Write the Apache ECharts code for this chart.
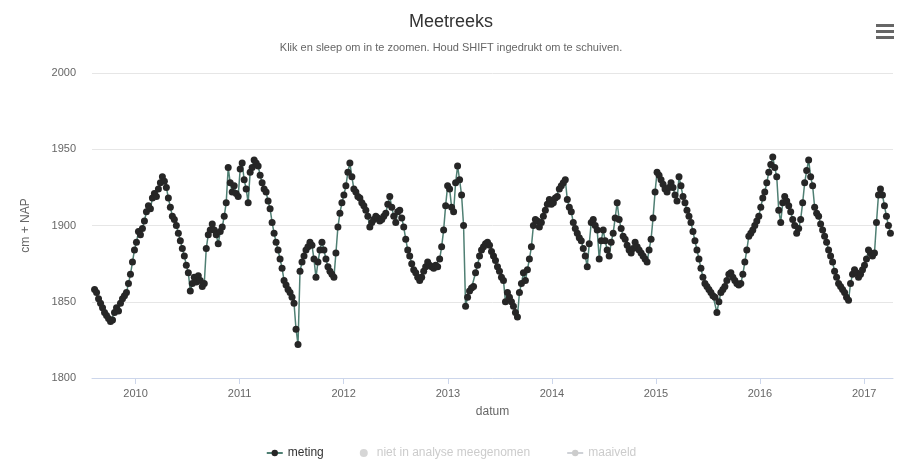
<!DOCTYPE html>
<html>
<head>
<meta charset="utf-8">
<title>Meetreeks</title>
<script src="https://cdn.jsdelivr.net/npm/echarts@6/dist/echarts.min.js"></script>
<style>
  html, body { margin: 0; padding: 0; background: #fff; }
  #chart { width: 902px; height: 472px; }
</style>
</head>
<body>
<div id="chart"></div>
<script>
// meetreeks grondwaterstand, wekelijkse aflezing vanaf 10 aug 2009
var startDatum = '2009-08-10';
var stapDagen = 7;

// waarden in cm + NAP (10 per regel)
var meting = [
    1858, 1856, 1852, 1849, 1846, 1843, 1841, 1839, 1837, 1838,
    1843, 1846, 1844, 1849, 1852, 1854, 1856, 1862, 1868, 1876,
    1884, 1889, 1896, 1894, 1898, 1903, 1909, 1913, 1911, 1918,
    1921, 1919, 1924, 1928, 1932, 1929, 1925, 1918, 1912, 1906,
    1904, 1900, 1895, 1890, 1885, 1880, 1874, 1869, 1857, 1862,
    1866, 1863, 1867, 1864, 1860, 1862, 1885, 1894, 1897, 1901,
    1897, 1894, 1888, 1896, 1899, 1906, 1915, 1938, 1928, 1922,
    1926, 1921, 1919, 1937, 1941, 1930, 1924, 1915, 1935, 1938,
    1943, 1941, 1939, 1933, 1928, 1924, 1922, 1916, 1911, 1902,
    1895, 1889, 1884, 1878, 1872, 1864, 1861, 1858, 1856, 1853,
    1849, 1832, 1822, 1870, 1876, 1880, 1884, 1886, 1889, 1887,
    1878, 1866, 1876, 1884, 1889, 1884, 1878, 1873, 1870, 1868,
    1866, 1882, 1899, 1908, 1915, 1920, 1926, 1935, 1941, 1932,
    1924, 1922, 1919, 1918, 1915, 1913, 1910, 1906, 1899, 1902,
    1904, 1906, 1905, 1903, 1904, 1906, 1908, 1914, 1919, 1912,
    1906, 1902, 1909, 1910, 1905, 1899, 1891, 1884, 1880, 1875,
    1871, 1869, 1866, 1864, 1866, 1870, 1873, 1876, 1874, 1873,
    1872, 1874, 1873, 1878, 1886, 1897, 1913, 1926, 1924, 1912,
    1909, 1928, 1939, 1930, 1920, 1900, 1847, 1853, 1857, 1859,
    1860, 1869, 1874, 1880, 1884, 1886, 1888, 1889, 1887, 1883,
    1880, 1877, 1873, 1870, 1866, 1864, 1850, 1856, 1853, 1850,
    1847, 1843, 1840, 1856, 1862, 1869, 1864, 1871, 1878, 1886,
    1900, 1904, 1903, 1899, 1902, 1906, 1910, 1914, 1917, 1914,
    1915, 1918, 1919, 1924, 1926, 1928, 1930, 1917, 1912, 1909,
    1902, 1898, 1895, 1892, 1890, 1885, 1880, 1873, 1888, 1902,
    1904, 1900, 1897, 1878, 1890, 1897, 1890, 1884, 1880, 1889,
    1895, 1905, 1915, 1904, 1898, 1893, 1891, 1887, 1884, 1882,
    1885, 1889, 1886, 1884, 1882, 1880, 1878, 1876, 1884, 1891,
    1905, 1922, 1935, 1933, 1930, 1927, 1924, 1922, 1925, 1928,
    1925, 1920, 1916, 1932, 1926, 1919, 1915, 1910, 1906, 1902,
    1896, 1890, 1884, 1878, 1872, 1866, 1862, 1860, 1858, 1856,
    1854, 1853, 1843, 1850, 1856, 1858, 1860, 1864, 1868, 1869,
    1866, 1864, 1862, 1861, 1862, 1868, 1876, 1884, 1893, 1895,
    1897, 1900, 1903, 1906, 1912, 1918, 1922, 1928, 1935, 1940,
    1945, 1938, 1932, 1910, 1902, 1915, 1919, 1916, 1913, 1909,
    1904, 1900, 1895, 1898, 1904, 1915, 1928, 1936, 1943, 1932,
    1926, 1912, 1908, 1906, 1901, 1897, 1893, 1889, 1884, 1880,
    1876, 1870, 1866, 1862, 1860, 1858, 1856, 1853, 1851, 1862,
    1868, 1871, 1869, 1866, 1868, 1871, 1874, 1878, 1884, 1882,
    1880, 1882, 1902, 1920, 1924, 1920, 1913, 1906, 1900, 1895
];

var yTicks = [1800, 1850, 1900, 1950, 2000];
var legendNamen = ['meting', 'niet in analyse meegenomen', 'maaiveld'];

var chartDom = document.getElementById('chart');
var chart = echarts.init(chartDom);

var dag = 24 * 3600 * 1000;
var t0 = new Date(startDatum + 'T00:00:00Z').getTime();
var metingData = meting.map(function (v, i) {
    return [t0 + i * stapDagen * dag, v];
});

var option = {
    animation: false,
    backgroundColor: '#fff',
    textStyle: { fontFamily: '"Liberation Sans", Arial, sans-serif' },
    title: {
        text: 'Meetreeks',
        subtext: 'Klik en sleep om in te zoomen. Houd SHIFT ingedrukt om te schuiven.',
        left: 'center',
        top: 8,
        itemGap: 11,
        textStyle: { fontSize: 18, fontWeight: 'normal', color: '#333' },
        subtextStyle: { fontSize: 11, color: '#666' }
    },
    legend: {
        bottom: 8,
        left: 'center',
        itemGap: 36,
        itemWidth: 16,
        itemHeight: 8,
        inactiveColor: '#ccc',
        textStyle: { fontSize: 12, color: '#333' },
        data: [
            { name: legendNamen[0] },
            { name: legendNamen[1], icon: 'circle', itemStyle: { borderWidth: 0 } },
            { name: legendNamen[2] }
        ],
        selected: {
            'niet in analyse meegenomen': false,
            'maaiveld': false
        }
    },
    grid: {
        left: 92,
        right: 9,
        top: 73,
        bottom: 94
    },
    xAxis: {
        type: 'time',
        min: '2009-08-01',
        max: '2017-04-12',
        minInterval: 365 * dag,
        name: 'datum',
        nameLocation: 'middle',
        nameGap: 28,
        nameTextStyle: { color: '#666', fontSize: 12 },
        axisLine: { show: true, lineStyle: { color: '#ccd6eb' } },
        axisTick: { show: true, length: 6, lineStyle: { color: '#ccd6eb' } },
        axisLabel: {
            color: '#666',
            fontSize: 11,
            margin: 10,
            formatter: '{yyyy}'
        },
        splitLine: { show: false }
    },
    yAxis: {
        type: 'value',
        min: yTicks[0],
        max: yTicks[yTicks.length - 1],
        interval: 50,
        name: 'cm + NAP',
        nameLocation: 'middle',
        nameGap: 60,
        nameTextStyle: { color: '#666', fontSize: 12 },
        axisLine: { show: false },
        axisTick: { show: false },
        axisLabel: {
            color: '#666',
            fontSize: 11,
            margin: 16,
            formatter: function (v) { return String(v); }
        },
        splitLine: { lineStyle: { color: '#e6e6e6' } }
    },
    graphic: [
        {
            type: 'group',
            right: 8,
            top: 24,
            children: [
                { type: 'rect', shape: { x: 0, y: 0, width: 18, height: 3 }, style: { fill: '#666' } },
                { type: 'rect', shape: { x: 0, y: 6, width: 18, height: 3 }, style: { fill: '#666' } },
                { type: 'rect', shape: { x: 0, y: 12, width: 18, height: 3 }, style: { fill: '#666' } }
            ]
        }
    ],
    series: [
        {
            name: 'meting',
            type: 'line',
            data: metingData,
            showSymbol: true,
            showAllSymbol: true,
            symbol: 'circle',
            symbolSize: 7,
            itemStyle: { color: '#262626' },
            lineStyle: { color: '#4f7f73', width: 1.5 }
        },
        {
            name: 'niet in analyse meegenomen',
            type: 'scatter',
            data: [],
            symbol: 'circle',
            symbolSize: 5,
            itemStyle: { color: '#999' }
        },
        {
            name: 'maaiveld',
            type: 'line',
            data: [],
            symbol: 'none',
            itemStyle: { color: '#999' },
            lineStyle: { color: '#999', width: 1 }
        }
    ]
};

chart.setOption(option);
</script>
</body>
</html>
